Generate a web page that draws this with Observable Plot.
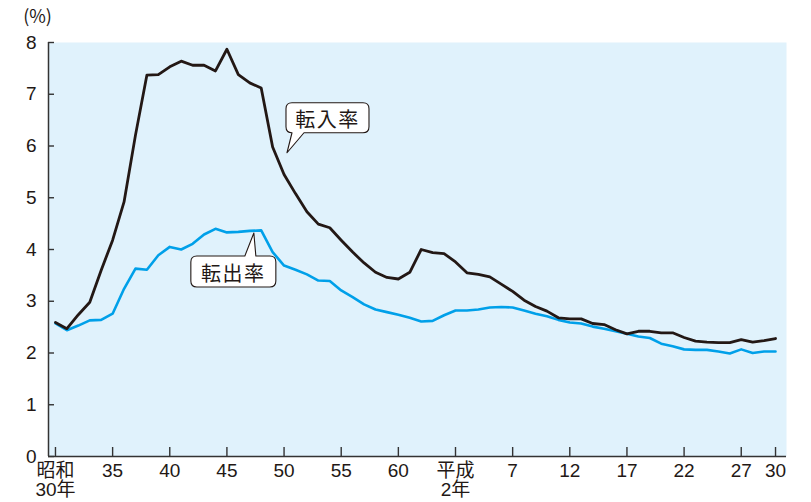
<!DOCTYPE html>
<html><head><meta charset="utf-8">
<script src="https://cdn.jsdelivr.net/npm/d3@7"></script>
<script src="https://cdn.jsdelivr.net/npm/@observablehq/plot@0.6"></script>
<style>html,body{margin:0;padding:0;background:#fff}</style>
</head><body><div id="chart"></div>
<script>
// 年次（昭和30年=1955 〜 平成30年=2018）
const years = [1955,1956,1957,1958,1959,1960,1961,1962,1963,1964,1965,1966,1967,1968,1969,1970,1971,1972,1973,1974,1975,1976,1977,1978,1979,1980,1981,1982,1983,1984,1985,1986,1987,1988,1989,1990,1991,1992,1993,1994,1995,1996,1997,1998,1999,2000,2001,2002,2003,2004,2005,2006,2007,2008,2009,2010,2011,2012,2013,2014,2015,2016,2017,2018];
// 転入率 (%)
const inRate = [2.59,2.47,2.74,2.98,3.60,4.18,4.92,6.21,7.37,7.38,
                7.53,7.64,7.56,7.56,7.45,7.87,7.38,7.22,7.12,5.98,
                5.45,5.08,4.73,4.49,4.42,4.18,3.95,3.74,3.56,3.46,
                3.43,3.56,4.00,3.94,3.92,3.76,3.55,3.52,3.47,3.33,
                3.19,3.02,2.90,2.81,2.68,2.66,2.66,2.57,2.55,2.45,
                2.37,2.42,2.42,2.39,2.39,2.30,2.23,2.21,2.20,2.20,
                2.26,2.21,2.24,2.28];
// 転出率 (%)
const outRate = [2.57,2.44,2.53,2.63,2.64,2.76,3.24,3.63,3.61,3.89,
                 4.05,4.00,4.11,4.29,4.40,4.33,4.34,4.36,4.37,3.95,
                 3.69,3.61,3.52,3.40,3.39,3.21,3.08,2.94,2.84,2.79,
                 2.74,2.68,2.61,2.62,2.73,2.82,2.82,2.84,2.88,2.89,
                 2.88,2.82,2.76,2.71,2.64,2.59,2.57,2.51,2.47,2.42,
                 2.37,2.32,2.29,2.18,2.13,2.07,2.06,2.06,2.03,1.99,
                 2.07,2.00,2.03,2.03];
const xTickYears = [1955,1960,1965,1970,1975,1980,1985,1990,1995,2000,2005,2010,2015,2018];
const xTickLabels = ["昭和\n30年","35","40","45","50","55","60","平成\n2年","7","12","17","22","27","30"];
const yTicks = [0,1,2,3,4,5,6,7,8];
const unitLabel = "(%)";
const callouts = [
  {label: "転入率", year: 1975.3, value: 5.86, side: "tipBelow"},
  {label: "転出率", year: 1972.4, value: 4.31, side: "tipAbove"}
];

const W = 811, H = 502, mT = 42, mB = 46, mL = 48, mR = 25;
const xDomain = [1954.39, 2018.96];
const ink = "#231815", axisColor = "#333";
const inData = years.map((y, i) => ({year: y, v: inRate[i]}));
const outData = years.map((y, i) => ({year: y, v: outRate[i]}));

const chart = Plot.plot({
  width: W, height: H,
  marginTop: mT, marginBottom: mB, marginLeft: mL, marginRight: mR,
  x: {domain: xDomain, axis: null},
  y: {domain: [0, 8], axis: null},
  style: {fontFamily: "'Liberation Sans', Arial, 'Noto Sans CJK JP', sans-serif", fontSize: "19px", background: "#fff", color: ink},
  marks: [
    Plot.frame({fill: "#e0f2fc", stroke: "none"}),
    Plot.line(outData, {x: "year", y: "v", stroke: "#00a0e9", strokeWidth: 2.6}),
    Plot.line(inData, {x: "year", y: "v", stroke: ink, strokeWidth: 2.8}),
    Plot.ruleX(xTickYears, {x: d => d, stroke: axisColor, strokeWidth: 1.4, insetTop: H - mT - mB - 9}),
    Plot.ruleY(yTicks, {y: d => d, stroke: axisColor, strokeWidth: 1.4, insetRight: W - mL - mR - 6}),
    Plot.ruleX([xDomain[0]], {x: d => d, stroke: axisColor, strokeWidth: 1.5}),
    Plot.ruleY([0], {y: d => d, stroke: axisColor, strokeWidth: 1.5}),
    Plot.text(yTicks, {x: () => xDomain[0], y: d => d, text: d => String(d), textAnchor: "end", dx: -12, fill: ink, fontSize: "19px"}),
    Plot.text(xTickYears, {x: d => d, y: () => 0, text: (d, i) => xTickLabels[i], lineAnchor: "top", dy: 7, lineHeight: 1.0, fill: ink, fontSize: "19px"}),
    Plot.text([unitLabel], {frameAnchor: "top-left", text: d => d, textAnchor: "middle", lineAnchor: "middle", dx: -11, dy: -25, fill: ink, fontSize: "18px", fontFamily: "'Noto Sans CJK JP', sans-serif"})
  ]
});

// 吹き出し（ライブラリのスケールで位置決め）
const sx = chart.scale("x"), sy = chart.scale("y");
const g = d3.select(chart).append("g");
callouts.forEach(c => {
  const tx = sx.apply(c.year), ty = sy.apply(c.value);
  const r = 6;
  let x0, x1, y0, y1, b0, b1, path;
  if (c.side === "tipBelow") {
    x0 = tx - 1; x1 = tx + 82; y0 = ty - 50; y1 = ty - 20; b0 = tx + 5; b1 = tx + 17;
    path = `M${x0+r},${y0}H${x1-r}Q${x1},${y0} ${x1},${y0+r}V${y1-r}Q${x1},${y1} ${x1-r},${y1}H${b1}L${tx},${ty}L${b0},${y1}H${x0+r}Q${x0},${y1} ${x0},${y1-r}V${y0+r}Q${x0},${y0} ${x0+r},${y0}Z`;
  } else {
    x0 = tx - 63; x1 = tx + 22; y0 = ty + 23; y1 = ty + 54; b0 = tx - 9; b1 = tx + 2;
    path = `M${x0+r},${y0}H${b0}L${tx},${ty}L${b1},${y0}H${x1-r}Q${x1},${y0} ${x1},${y0+r}V${y1-r}Q${x1},${y1} ${x1-r},${y1}H${x0+r}Q${x0},${y1} ${x0},${y1-r}V${y0+r}Q${x0},${y0} ${x0+r},${y0}Z`;
  }
  g.append("path").attr("d", path).attr("fill", "#fff").attr("stroke", ink).attr("stroke-width", 1.1).attr("stroke-linejoin", "round");
  g.append("text").attr("x", (x0 + x1) / 2).attr("y", (y0 + y1) / 2 + 1)
    .attr("text-anchor", "middle").attr("dominant-baseline", "central")
    .attr("font-family", "'Noto Sans CJK JP', sans-serif").attr("font-size", 20)
    .attr("letter-spacing", 1.5).attr("fill", ink).text(c.label);
});

document.getElementById("chart").appendChild(chart);
</script>
</body></html>
